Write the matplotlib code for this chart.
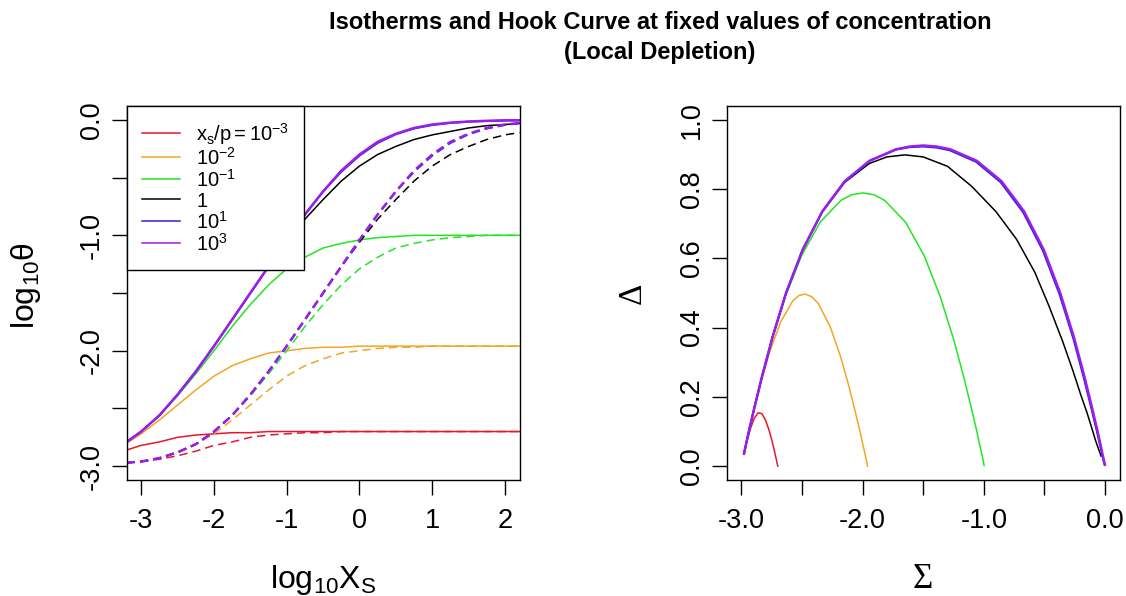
import matplotlib
matplotlib.use('Agg')
import matplotlib.pyplot as plt
from matplotlib.lines import Line2D

plt.rcParams['font.family'] = ['Liberation Sans', 'DejaVu Sans']
plt.rcParams['mathtext.fontset'] = 'custom'
plt.rcParams['mathtext.rm'] = 'Liberation Sans'
plt.rcParams['mathtext.it'] = 'Liberation Sans:italic'
plt.rcParams['mathtext.bf'] = 'Liberation Sans:bold'
plt.rcParams['axes.unicode_minus'] = False

# ---- left panel: log10(theta) vs log10(X_S) ----
log_xs = [-3.2, -3.0, -2.75, -2.5, -2.25, -2.0, -1.75, -1.5, -1.25, -1.0, -0.75, -0.5,
          -0.25, 0.0, 0.25, 0.5, 0.75, 1.0, 1.25, 1.5, 1.75, 2.0, 2.2]

red_solid = [-2.86, -2.82, -2.79, -2.75, -2.73, -2.72, -2.71, -2.71, -2.70, -2.70, -2.70, -2.70,
             -2.70, -2.70, -2.70, -2.70, -2.70, -2.70, -2.70, -2.70, -2.70, -2.70, -2.70]
red_dash = [-2.97, -2.96, -2.94, -2.91, -2.87, -2.82, -2.79, -2.75, -2.73, -2.72, -2.71, -2.71,
            -2.70, -2.70, -2.70, -2.70, -2.70, -2.70, -2.70, -2.70, -2.70, -2.70, -2.70]
orange_solid = [-2.80, -2.72, -2.60, -2.47, -2.34, -2.22, -2.13, -2.07, -2.02, -2.00, -1.98, -1.97,
                -1.97, -1.96, -1.96, -1.96, -1.96, -1.96, -1.96, -1.96, -1.96, -1.96, -1.96]
orange_dash = [-2.97, -2.96, -2.93, -2.88, -2.81, -2.72, -2.60, -2.47, -2.34, -2.22, -2.13, -2.07,
               -2.02, -2.00, -1.98, -1.97, -1.97, -1.96, -1.96, -1.96, -1.96, -1.96, -1.96]
green_solid = [-2.79, -2.70, -2.56, -2.39, -2.20, -2.00, -1.79, -1.60, -1.43, -1.29, -1.19, -1.11,
               -1.07, -1.04, -1.02, -1.01, -1.00, -1.00, -1.00, -1.00, -1.00, -1.00, -1.00]
green_dash = [-2.97, -2.96, -2.93, -2.88, -2.81, -2.70, -2.56, -2.39, -2.20, -2.00, -1.79, -1.60,
              -1.43, -1.29, -1.19, -1.11, -1.07, -1.04, -1.02, -1.01, -1.00, -1.00, -1.00]
black_solid = [-2.79, -2.70, -2.56, -2.38, -2.18, -1.96, -1.73, -1.50, -1.27, -1.06, -0.86, -0.69,
               -0.53, -0.40, -0.30, -0.23, -0.17, -0.13, -0.10, -0.07, -0.05, -0.04, -0.03]
black_dash = [-2.97, -2.96, -2.93, -2.88, -2.81, -2.70, -2.56, -2.38, -2.18, -1.96, -1.73, -1.50,
              -1.27, -1.06, -0.86, -0.69, -0.53, -0.40, -0.30, -0.23, -0.17, -0.13, -0.11]
blue_solid = [-2.79, -2.70, -2.56, -2.38, -2.18, -1.96, -1.73, -1.50, -1.27, -1.04, -0.82, -0.62,
              -0.45, -0.31, -0.20, -0.125, -0.075, -0.045, -0.027, -0.016, -0.010, -0.006, -0.005]
blue_dash = [-2.97, -2.96, -2.93, -2.88, -2.81, -2.70, -2.56, -2.38, -2.18, -1.96, -1.73, -1.50,
             -1.27, -1.04, -0.82, -0.62, -0.45, -0.31, -0.20, -0.125, -0.075, -0.045, -0.03]
purple_solid = [-2.79, -2.70, -2.56, -2.38, -2.18, -1.96, -1.73, -1.50, -1.27, -1.04, -0.82, -0.62,
                -0.44, -0.30, -0.19, -0.12, -0.07, -0.04, -0.024, -0.014, -0.008, -0.004, -0.003]
purple_dash = [-2.97, -2.96, -2.93, -2.88, -2.81, -2.70, -2.56, -2.38, -2.18, -1.96, -1.73, -1.50,
               -1.27, -1.04, -0.82, -0.62, -0.44, -0.30, -0.19, -0.12, -0.07, -0.04, -0.027]

# ---- right panel: hook curves (Sigma, Delta) ----
red_sig = [-2.979, -2.966, -2.947, -2.922, -2.893, -2.862, -2.831, -2.800, -2.772, -2.748,
           -2.730, -2.718, -2.710, -2.703, -2.700, -2.699]
red_del = [0.034, 0.054, 0.080, 0.111, 0.138, 0.154, 0.152, 0.133, 0.105, 0.075,
           0.049, 0.030, 0.018, 0.006, 0.002, 0.000]
orange_sig = [-2.977, -2.961, -2.935, -2.896, -2.839, -2.765, -2.676, -2.576, -2.524, -2.471,
              -2.418, -2.366, -2.267, -2.180, -2.109, -2.056, -2.018, -1.994, -1.979, -1.965,
              -1.961, -1.959]
orange_del = [0.037, 0.062, 0.103, 0.162, 0.240, 0.330, 0.416, 0.477, 0.493, 0.497,
              0.489, 0.470, 0.403, 0.315, 0.226, 0.151, 0.095, 0.057, 0.034, 0.011,
              0.004, 0.000]
green_sig = [-2.977, -2.961, -2.934, -2.892, -2.830, -2.745, -2.636, -2.503, -2.349, -2.177,
             -2.087, -1.996, -1.905, -1.816, -1.644, -1.490, -1.358, -1.249, -1.165, -1.103,
             -1.061, -1.035, -1.018, -1.003, -0.998]
green_del = [0.037, 0.063, 0.106, 0.169, 0.258, 0.368, 0.490, 0.608, 0.705, 0.768,
             0.784, 0.789, 0.784, 0.767, 0.704, 0.606, 0.488, 0.366, 0.256, 0.168,
             0.105, 0.063, 0.037, 0.012, 0.002]
black_sig = [-2.977, -2.961, -2.934, -2.891, -2.829, -2.743, -2.632, -2.494, -2.331, -2.146,
             -1.945, -1.800, -1.650, -1.500, -1.300, -1.100, -0.900, -0.730, -0.580, -0.460,
             -0.350, -0.265, -0.200, -0.150, -0.110, -0.080, -0.055, -0.033]
black_del = [0.037, 0.063, 0.106, 0.170, 0.259, 0.372, 0.499, 0.625, 0.735, 0.820,
             0.874, 0.893, 0.899, 0.893, 0.866, 0.808, 0.735, 0.655, 0.560, 0.460,
             0.360, 0.275, 0.205, 0.155, 0.110, 0.075, 0.050, 0.029]
blue_sig = [-2.977, -2.961, -2.934, -2.891, -2.829, -2.743, -2.632, -2.494, -2.331, -2.146,
            -1.941, -1.725, -1.614, -1.503, -1.392, -1.281, -1.065, -0.862, -0.676, -0.513,
            -0.376, -0.263, -0.177, -0.114, -0.070, -0.043, -0.026, -0.010, -0.004]
blue_del = [0.037, 0.063, 0.106, 0.170, 0.259, 0.372, 0.499, 0.625, 0.736, 0.823,
            0.882, 0.914, 0.921, 0.923, 0.920, 0.912, 0.879, 0.820, 0.733, 0.622,
            0.496, 0.369, 0.256, 0.167, 0.103, 0.061, 0.035, 0.011, 0.004]
purple_sig = [-2.977, -2.961, -2.934, -2.891, -2.829, -2.743, -2.632, -2.494, -2.331, -2.146,
              -1.941, -1.724, -1.612, -1.500, -1.388, -1.276, -1.059, -0.855, -0.669, -0.506,
              -0.369, -0.257, -0.171, -0.109, -0.066, -0.039, -0.023, -0.007, -0.002]
purple_del = [0.037, 0.063, 0.106, 0.170, 0.259, 0.372, 0.499, 0.625, 0.736, 0.823,
              0.882, 0.915, 0.923, 0.926, 0.923, 0.915, 0.882, 0.823, 0.736, 0.625,
              0.499, 0.372, 0.259, 0.170, 0.106, 0.063, 0.037, 0.012, 0.004]

legend_labels = [r'$\mathrm{x_s/p}=\mathrm{10^{-3}}$', r'$\mathrm{10^{-2}}$', r'$\mathrm{10^{-1}}$',
                 '1', r'$\mathrm{10^{1}}$', r'$\mathrm{10^{3}}$']
colors = ['#E8162C', '#F2A624', '#22E622', '#000000', '#3320D8', '#9A1FEA']

solids = [red_solid, orange_solid, green_solid, black_solid, blue_solid, purple_solid]
dashes = [red_dash, orange_dash, green_dash, black_dash, blue_dash, purple_dash]
hooks = [(red_sig, red_del), (orange_sig, orange_del), (green_sig, green_del),
         (black_sig, black_del), (blue_sig, blue_del), (purple_sig, purple_del)]
widths = [1.1, 1.1, 1.1, 1.1, 1.4, 1.8]

fig = plt.figure(figsize=(11.26, 5.96), dpi=100)
ax1 = fig.add_axes([0.1125, 0.1946, 0.3489, 0.6275])
ax2 = fig.add_axes([0.6454, 0.1946, 0.3490, 0.6275])

for ys, c, w in zip(solids, colors, widths):
    ax1.plot(log_xs, ys, color=c, lw=w)
for ys, c, w in zip(dashes, colors, widths):
    ax1.plot(log_xs, ys, color=c, lw=w, linestyle=(0, (6.0 / w, 3.6 / w)))

for (s, d), c, w in zip(hooks, colors, widths):
    ax2.plot(s, d, color=c, lw=w)

ax1.set_xlim(-3.2, 2.2)
ax1.set_ylim(-3.12, 0.12)
ax1.set_xticks([-3, -2, -1, 0, 1, 2])
ax1.set_xticklabels(['-3', '-2', '-1', '0', '1', '2'])
ax1.set_yticks([-3.0, -2.5, -2.0, -1.5, -1.0, -0.5, 0.0])
ax1.set_yticklabels(['-3.0', '', '-2.0', '', '-1.0', '', '0.0'])

ax2.set_xlim(-3.12, 0.12)
ax2.set_ylim(-0.04, 1.04)
ax2.set_xticks([-3.0, -2.5, -2.0, -1.5, -1.0, -0.5, 0.0])
ax2.set_xticklabels(['-3.0', '', '-2.0', '', '-1.0', '', '0.0'])
ax2.set_yticks([0.0, 0.2, 0.4, 0.6, 0.8, 1.0])
ax2.set_yticklabels(['0.0', '0.2', '0.4', '0.6', '0.8', '1.0'])

for ax in (ax1, ax2):
    for sp in ax.spines.values():
        sp.set_linewidth(1.0)
    ax.tick_params(direction='out', length=10.5, width=1.0, labelsize=19.5)
    ax.tick_params(axis='x', pad=10)
    ax.tick_params(axis='y', pad=5)
    for lab in ax.get_yticklabels():
        lab.set_rotation(90)
        lab.set_verticalalignment('center')

ax1.set_xlabel(r'$\mathrm{log_{10}X_S}$', fontsize=23)
ax1.set_ylabel(r'$\mathrm{log_{10}θ}$', fontsize=23)
ax2.set_xlabel('Σ', fontsize=25, family='Liberation Serif')
ax2.set_ylabel('Δ', fontsize=24, family='Liberation Serif')
ax1.xaxis.set_label_coords(0.5, -0.222)
ax2.xaxis.set_label_coords(0.5, -0.222)
ax1.yaxis.set_label_coords(-0.212, 0.52)
ax2.yaxis.set_label_coords(-0.202, 0.5)

handles = [Line2D([], [], color=c, lw=1.1) for c in colors]
leg = ax1.legend(handles, legend_labels, loc='upper left', borderaxespad=0, fancybox=False,
                 edgecolor='black', framealpha=1, fontsize=14.5, handlelength=1.9,
                 handletextpad=0.8, borderpad=0.75, labelspacing=0.0, handleheight=1.0)
leg.get_frame().set_linewidth(1.0)

fig.text(0.586, 1 - 29 / 596, 'Isotherms and Hook Curve at fixed values of concentration',
         ha='center', va='baseline', fontsize=17, fontweight='bold')
fig.text(0.586, 1 - 59 / 596, '(Local Depletion)',
         ha='center', va='baseline', fontsize=17, fontweight='bold')

fig.savefig('out.png', dpi=100)
